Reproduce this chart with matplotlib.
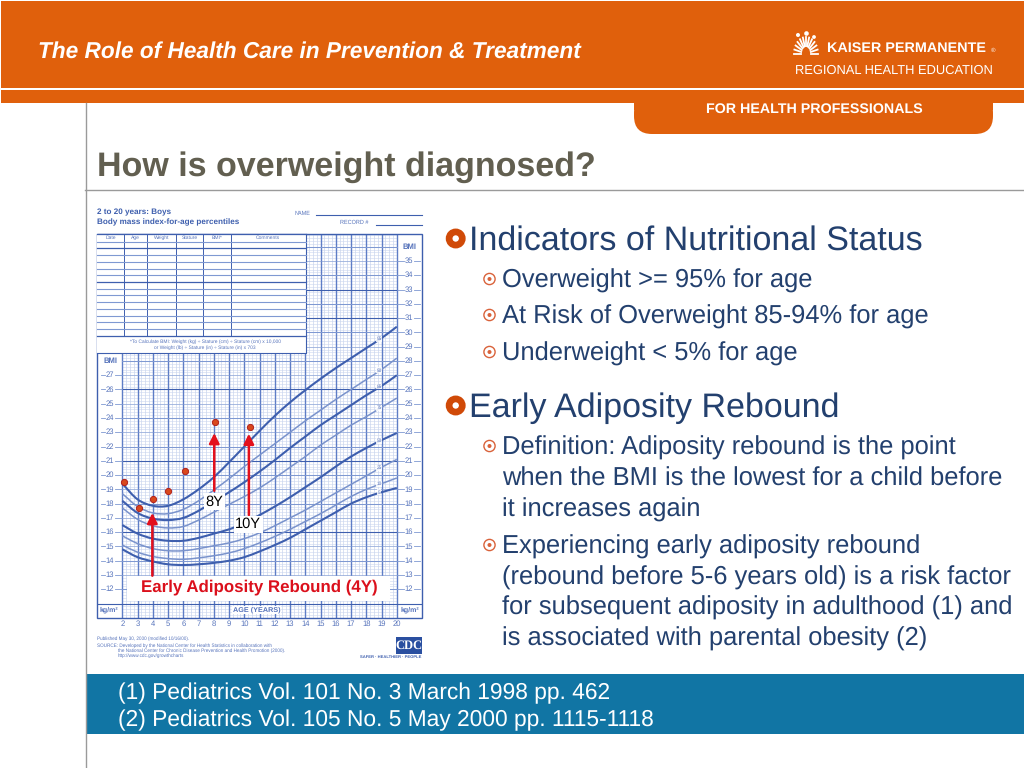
import matplotlib
matplotlib.use('Agg')
import matplotlib.pyplot as plt
from matplotlib.patches import Rectangle, FancyBboxPatch, Circle, PathPatch
from matplotlib.path import Path
import numpy as np

plt.rcParams['font.family'] = ['Liberation Sans', 'DejaVu Sans']
plt.rcParams['text.hinting'] = 'no_hinting'

ages = list(range(2, 21))
p95 = [19.4,18.3,17.85,17.85,18.3,19.0,19.85,20.9,22.0,23.1,24.15,25.1,25.95,26.75,27.5,28.2,28.9,29.6,30.4]
p90 = [18.7,17.8,17.35,17.3,17.6,18.2,18.95,19.75,20.6,21.4,22.2,23.0,23.8,24.55,25.3,26.0,26.7,27.4,28.2]
p85 = [18.2,17.35,16.95,16.85,17.0,17.5,18.15,18.8,19.5,20.25,21.05,21.9,22.7,23.5,24.2,24.9,25.6,26.25,27.0]
p75 = [17.7,16.9,16.45,16.3,16.4,16.85,17.4,17.95,18.5,19.1,19.8,20.55,21.3,22.1,22.8,23.5,24.1,24.75,25.4]
p50 = [16.5,15.9,15.55,15.4,15.4,15.6,15.9,16.2,16.65,17.2,17.8,18.45,19.15,19.85,20.6,21.3,21.9,22.45,22.95]
p25 = [15.75,15.2,14.85,14.7,14.7,14.85,15.05,15.25,15.55,15.95,16.45,17.0,17.55,18.15,18.75,19.35,19.95,20.55,21.1]
p10 = [15.1,14.6,14.3,14.15,14.1,14.2,14.35,14.55,14.85,15.25,15.7,16.2,16.75,17.3,17.9,18.5,19.0,19.4,19.8]
p05 = [14.8,14.25,13.95,13.75,13.7,13.75,13.85,14.0,14.25,14.65,15.1,15.6,16.2,16.8,17.4,18.0,18.45,18.8,19.1]
curve_labels = ['95', '90', '85', '75', '50', '25', '10', '5']
point_ages = [2.1, 3.1, 4.0, 5.0, 6.1, 8.05, 10.35]
point_bmi = [19.5, 17.7, 18.3, 18.9, 20.3, 23.7, 23.35]
table_headers = ['Date', 'Age', 'Weight', 'Stature', 'BMI*', 'Comments']
section1 = ['Overweight >= 95% for age', 'At Risk of Overweight 85-94% for age', 'Underweight < 5% for age']
refs = ['(1) Pediatrics Vol. 101 No. 3 March 1998 pp. 462', '(2) Pediatrics Vol. 105 No. 5 May 2000 pp. 1115-1118']

ORANGE = '#E0600C'; NAVY = '#23406E'; TEAL = '#1175A4'; GREY = '#625F50'
BLUE = '#3E5FAE'; MID = '#7F99D2'; LIGHT = '#CBD6EF'; BTXT = '#5673BB'

fig = plt.figure(figsize=(10.24, 7.68), dpi=100, facecolor='white')
bg = fig.add_axes([0, 0, 1, 1]); bg.set_xlim(0, 1024); bg.set_ylim(768, 0); bg.axis('off')

# page furniture
bg.add_patch(Rectangle((1, 1), 1023, 87, fc=ORANGE, ec='none'))
bg.add_patch(Rectangle((1, 90), 1023, 13, fc=ORANGE, ec='none'))
bg.add_patch(FancyBboxPatch((634, 95), 359, 39, boxstyle='round,pad=0,rounding_size=18', fc=ORANGE, ec='none'))
bg.add_patch(Rectangle((634, 90), 359, 20, fc=ORANGE, ec='none'))
bg.plot([85.5, 85.5], [103, 768], color='#9A9A9A', lw=1)
bg.plot([85, 1024], [190, 190], color='#9A9A9A', lw=1)
bg.add_patch(Rectangle((85.5, 674), 939, 60, fc=TEAL, ec='none'))

bg.text(38, 58, 'The Role of Health Care in Prevention & Treatment', color='white', fontsize=16.3,
        fontweight='bold', fontstyle='italic')
bg.text(827, 52, 'KAISER PERMANENTE', color='white', fontsize=10.4, fontweight='bold')
bg.text(991, 52, '®', color='white', fontsize=4.5)
bg.text(795, 74, 'REGIONAL HEALTH EDUCATION', color='white', fontsize=9.3)
bg.text(706, 113, 'FOR HEALTH PROFESSIONALS', color='white', fontsize=10.25, fontweight='bold')
bg.text(97, 176, 'How is overweight diagnosed?', color=GREY, fontsize=24.45, fontweight='bold')
# logo
for a in np.linspace(180, 360, 13):
    r = np.radians(a)
    bg.plot([806 + 5*np.cos(r), 806 + 12*np.cos(r)], [54 + 8*np.sin(r), 54 + 17*np.sin(r)], color='white', lw=1.3)
for cx, cy, rr in [(798, 35, 2.0), (806.5, 33.5, 2.3), (814, 37, 1.9)]:
    bg.add_patch(Circle((cx, cy), rr, fc='white', ec='none'))

# body text
def bullet_big(y):
    bg.add_patch(Circle((455.7, y), 6.6, fc='none', ec='#D04A08', lw=4.8))
def bullet_small(y):
    bg.add_patch(Circle((489.5, y), 5.6, fc='none', ec='#D9623A', lw=1.0))
    bg.add_patch(Circle((489.5, y), 2, fc='#D9623A', ec='none'))
bullet_big(238.5)
bg.text(469, 250, 'Indicators of Nutritional Status', color=NAVY, fontsize=24.5)
for t, y in zip(section1, [288, 324, 361]):
    bullet_small(y - 9)
    bg.text(502, y, t, color=NAVY, fontsize=18.4)
bullet_big(405.5)
bg.text(469, 417, 'Early Adiposity Rebound', color=NAVY, fontsize=24.5)
bullet_small(446)
for t, y in zip(['Definition: Adiposity rebound is the point', 'when the BMI is the lowest for a child before', 'it increases again'], [455, 486, 517]):
    bg.text(502, y, t, color=NAVY, fontsize=18.4)
bullet_small(545)
for t, y in zip(['Experiencing early adiposity rebound', '(rebound before 5-6 years old) is a risk factor',
                 'for subsequent adiposity in adulthood (1) and', 'is associated with parental obesity (2)'], [554, 585, 615, 646]):
    bg.text(502, y, t, color=NAVY, fontsize=18.4)
for t, y in zip(refs, [699, 726]):
    bg.text(118, y, t, color='white', fontsize=16.35)

# growth chart (pixel box 97..422 x 234..618)
px_year = 15.25; px_bmi = 14.27
xl = (2 + (97 - 122.3)/px_year, 2 + (422 - 122.3)/px_year)
yl = (23 - (618 - 432.3)/px_bmi, 23 + (432.3 - 234)/px_bmi)
ax = fig.add_axes([97/1024, (768 - 618)/768, 325/1024, 384/768])
ax.set_xlim(*xl); ax.set_ylim(*yl); ax.axis('off'); ax.patch.set_alpha(0)
ymin, ymax = yl
for x in np.arange(2, 20.01, 0.25):
    ax.plot([x, x], [ymin, ymax], color=LIGHT, lw=0.5, zorder=1)
for x in range(2, 21):
    ax.plot([x, x], [ymin, ymax], color='#5E7DC6', lw=1.0, zorder=1.2)
for y in np.arange(10.0, 36.9, 0.2):
    ax.plot([2, 20], [y, y], color=LIGHT, lw=0.4, zorder=1)
dark_rows = [16, 21, 26, 31, 33]
for y in range(11, 37):
    if y in dark_rows:
        ax.plot([2, 20], [y, y], color=BLUE, lw=0.8, zorder=1.2)
    else:
        ax.plot([2, 20], [y, y], color=MID, lw=0.75 if y % 2 == 0 else 0.4, zorder=1.2)
ax.add_patch(Rectangle((xl[0], ymin), xl[1]-xl[0], ymax-ymin, fc='none', ec=BLUE, lw=1, zorder=6, clip_on=False))
ax.plot([xl[0], xl[1]], [11, 11], color=BLUE, lw=0.8, zorder=2)

def smooth(xs, ys):
    """Bezier path through the read values, so the curve shows no corners."""
    xs = np.asarray(xs, float); ys = np.asarray(ys, float)
    m = np.gradient(ys, xs)
    verts = [(xs[0], ys[0])]; codes = [Path.MOVETO]
    for i in range(len(xs) - 1):
        h = (xs[i+1] - xs[i]) / 3
        verts += [(xs[i] + h, ys[i] + m[i]*h), (xs[i+1] - h, ys[i+1] - m[i+1]*h), (xs[i+1], ys[i+1])]
        codes += [Path.CURVE4]*3
    return Path(verts, codes)

curves = [p95, p90, p85, p75, p50, p25, p10, p05]
widths = [1.5, 1.1, 1.5, 1.1, 1.5, 1.1, 1.1, 1.5]
cols = [BLUE, '#7A93CC', BLUE, '#7A93CC', BLUE, '#7A93CC', '#7A93CC', BLUE]
for c, w, col, lab in zip(curves, widths, cols, curve_labels):
    ax.add_patch(PathPatch(smooth(ages, c), fc='none', ec=col, lw=w, zorder=3))
    ax.text(18.85, np.interp(18.85, ages, c) + 0.05, lab, fontsize=3.4, color=BTXT, ha='center', va='center', zorder=4,
            bbox=dict(fc='white', ec='none', pad=0.4, alpha=0.85))
# BMI scales
for y in range(12, 28):
    ax.text(1.2, y, str(y), fontsize=5.5, color=BTXT, ha='center', va='center', zorder=4)
    ax.plot([0.6, 0.85], [y, y], color=MID, lw=0.6); ax.plot([1.55, 2], [y, y], color=MID, lw=0.6)
for y in range(12, 36):
    ax.text(20.8, y, str(y), fontsize=5.5, color=BTXT, ha='center', va='center', zorder=4)
    ax.plot([20, 20.45], [y, y], color=MID, lw=0.6); ax.plot([21.15, 21.5], [y, y], color=MID, lw=0.6)
ax.text(1.2, 28, 'BMI', fontsize=5.5, color=BTXT, fontweight='bold', ha='center', va='center')
ax.text(20.8, 36, 'BMI', fontsize=5.5, color=BTXT, fontweight='bold', ha='center', va='center')
for x in range(2, 21):
    ax.text(x, 9.55, str(x), fontsize=5.5, color=BTXT, ha='center', va='center', clip_on=False)
ax.text(1.15, 10.55, 'kg/m²', fontsize=5, color=BTXT, fontweight='bold', ha='center', va='center')
ax.text(20.85, 10.55, 'kg/m²', fontsize=5, color=BTXT, fontweight='bold', ha='center', va='center')
ax.text(10.8, 10.55, 'AGE (YEARS)', fontsize=5.2, color=BTXT, fontweight='bold', ha='center', va='center',
        bbox=dict(fc='white', ec='none', pad=0.5), zorder=4)

# form table over the grid (pixel coordinates)
bg2 = fig.add_axes([0, 0, 1, 1]); bg2.set_xlim(0, 1024); bg2.set_ylim(768, 0); bg2.axis('off'); bg2.patch.set_alpha(0)
bg2.set_zorder(ax.get_zorder() + 1)
bg2.add_patch(Rectangle((97, 234), 208.5, 119, fc='white', ec='none'))
bg2.plot([97, 305.5], [234, 234], color=BLUE, lw=0.9)
bg2.plot([97, 305.5, 305.5], [353, 353, 234], color=BLUE, lw=0.8)
col_x = [97, 124, 147.3, 176, 202.7, 231, 305.5]
for x in col_x[1:-1]:
    bg2.plot([x, x], [234, 335.7], color=BLUE, lw=0.7)
for i in range(15):
    y = 241.7 + i*6.71
    bg2.plot([97, 305.5], [y, y], color=BLUE if i in (1, 6, 14) else MID, lw=0.9 if i in (1, 6, 14) else 0.8)
for i, h in enumerate(table_headers):
    bg2.text((col_x[i]+col_x[i+1])/2, 238, h, fontsize=3.6, color=BTXT, ha='center', va='center')
bg2.text(205, 341.5, '*To Calculate BMI: Weight (kg) ÷ Stature (cm) ÷ Stature (cm) x 10,000', fontsize=3.5, color=BTXT, ha='center', va='center')
bg2.text(205, 348, 'or Weight (lb) ÷ Stature (in) ÷ Stature (in) x 703', fontsize=3.5, color=BTXT, ha='center', va='center')
# header of form
bg2.text(97, 212, '2 to 20 years: Boys', fontsize=5.85, color=BLUE, fontweight='bold', va='center')
bg2.text(97, 222, 'Body mass index-for-age percentiles', fontsize=5.85, color=BLUE, fontweight='bold', va='center')
bg2.text(295, 213, 'NAME', fontsize=4, color=BTXT, va='center')
bg2.plot([316, 422], [215, 215], color=BLUE, lw=0.8)
bg2.text(340, 222.5, 'RECORD #', fontsize=4, color=BTXT, va='center')
bg2.plot([376, 422], [224.5, 224.5], color=BLUE, lw=0.8)
# footer of form
for t, x, y in [('Published May 30, 2000 (modified 10/16/00).', 97, 639),
                ('SOURCE: Developed by the National Center for Health Statistics in collaboration with', 97, 646),
                ('the National Center for Chronic Disease Prevention and Health Promotion (2000).', 118, 651),
                ('http://www.cdc.gov/growthcharts', 118, 656)]:
    bg2.text(x, y, t, fontsize=3.3, color=BTXT, va='center')
bg2.add_patch(Rectangle((396, 637), 26, 17, fc='#2A4FA0', ec='none'))
bg2.text(409, 645.5, 'CDC', fontsize=9, color='white', fontweight='bold', fontfamily='Liberation Serif', ha='center', va='center')
bg2.text(391, 657, 'SAFER · HEALTHIER · PEOPLE', fontsize=3, color=BLUE, fontweight='bold', ha='center', va='center')
# white label
bg2.add_patch(Rectangle((127, 576), 263, 24.5, fc='white', ec='none'))
bg2.text(259, 587.5, 'Early Adiposity Rebound (4Y)', color='#DB101C', fontsize=12.2, fontweight='bold', ha='center', va='center')

# overlay marks in data coordinates
ov = fig.add_axes(ax.get_position()); ov.set_xlim(*xl); ov.set_ylim(*yl); ov.axis('off'); ov.patch.set_alpha(0)
ov.set_zorder(bg2.get_zorder() + 1)
ov.scatter(point_ages, point_bmi, s=20, fc='#D9481C', ec='#B0201A', lw=0.7, zorder=5)
for x, y0, y1 in [(3.97, 12.95, 17.35), (8.03, 18.9, 22.95), (10.3, 17.2, 22.9)]:
    ov.annotate('', xy=(x, y1), xytext=(x, y0),
                arrowprops=dict(arrowstyle='-|>,head_width=0.3,head_length=0.6', color='#E3101C', lw=1.8, shrinkA=0, shrinkB=0), zorder=4)
ov.text(8.03, 18.15, '8Y', fontsize=10.5, color='black', ha='center', va='center', bbox=dict(fc='white', ec='none', pad=1.0), zorder=6)
ov.text(10.25, 16.55, '10Y', fontsize=10.5, color='black', ha='center', va='center', bbox=dict(fc='white', ec='none', pad=1.0), zorder=6)

fig.savefig('out.png', dpi=100, facecolor='white')
